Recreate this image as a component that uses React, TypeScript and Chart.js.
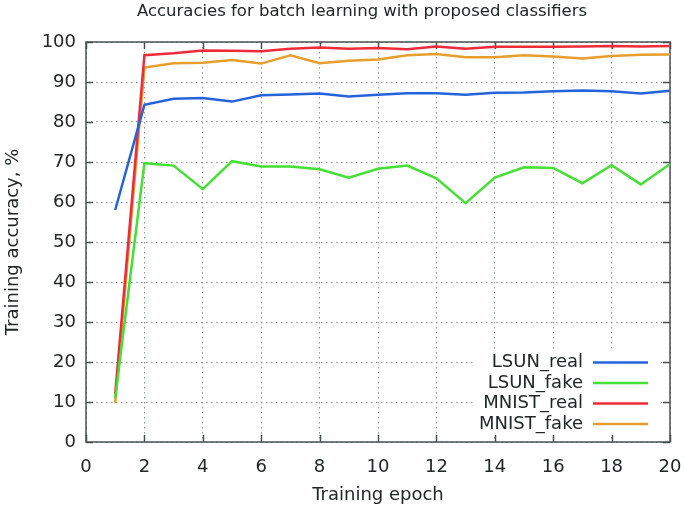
import React, { useEffect, useRef } from "react";
import { Chart, registerables } from "chart.js";

Chart.register(...registerables);

const epochs = [1, 2, 3, 4, 5, 6, 7, 8, 9, 10, 11, 12, 13, 14, 15, 16, 17, 18, 19, 20];
const lsunReal = [58, 84.3, 85.8, 86, 85.1, 86.7, 86.9, 87.1, 86.4, 86.8, 87.2, 87.2, 86.8, 87.3, 87.4, 87.7, 87.9, 87.7, 87.1, 87.8];
const lsunFake = [11, 69.7, 69.1, 63.2, 70.2, 68.9, 68.9, 68.2, 66.1, 68.3, 69.1, 65.9, 59.7, 66.1, 68.7, 68.5, 64.7, 69.2, 64.4, 69.5];
const mnistReal = [12, 96.7, 97.2, 97.9, 97.8, 97.7, 98.3, 98.6, 98.3, 98.5, 98.2, 98.9, 98.3, 98.8, 98.8, 98.8, 98.9, 99, 98.9, 99];
const mnistFake = [9.8, 93.6, 94.7, 94.8, 95.5, 94.6, 96.7, 94.7, 95.3, 95.6, 96.7, 97, 96.2, 96.2, 96.7, 96.4, 95.9, 96.5, 96.8, 96.9];

const seriesNames = ["LSUN_real", "LSUN_fake", "MNIST_real", "MNIST_fake"];
const seriesColors = ["#2463dc", "#44e034", "#ee2b3b", "#e89e2c"];
const seriesValues = [lsunReal, lsunFake, mnistReal, mnistFake];

const titleText = "Accuracies for batch learning with proposed classifiers";
const xTitle = "Training epoch";
const yTitle = "Training accuracy, %";

const FONT = "'DejaVu Sans', sans-serif";
const TEXT = "#222626";
const FRAME = "#4a5050";

const framePlugin = {
  id: "gnuplotFrame",
  beforeDatasetsDraw(chart: any) {
    const { ctx, chartArea: a } = chart;
    ctx.save();
    ctx.strokeStyle = FRAME;
    ctx.lineWidth = 1.5;
    ctx.setLineDash([]);
    const xs = chart.scales.x;
    const ys = chart.scales.y;
    const tl = 7;
    xs.ticks.forEach((t: any) => {
      const px = Math.round(xs.getPixelForValue(t.value)) + 0.5;
      ctx.beginPath();
      ctx.moveTo(px, a.bottom);
      ctx.lineTo(px, a.bottom - tl);
      ctx.moveTo(px, a.top);
      ctx.lineTo(px, a.top + tl);
      ctx.stroke();
    });
    ys.ticks.forEach((t: any) => {
      const py = Math.round(ys.getPixelForValue(t.value)) + 0.5;
      ctx.beginPath();
      ctx.moveTo(a.left, py);
      ctx.lineTo(a.left + tl, py);
      ctx.moveTo(a.right, py);
      ctx.lineTo(a.right - tl, py);
      ctx.stroke();
    });
    ctx.strokeRect(a.left, a.top, a.right - a.left, a.bottom - a.top);
    ctx.restore();
  },
  afterDatasetsDraw(chart: any) {
    const { ctx, chartArea: a } = chart;
    ctx.save();
    // legend box (white background, no border)
    ctx.fillStyle = "#ffffff";
    ctx.fillRect(473, 349, 187, 86);
    ctx.font = `18px ${FONT}`;
    ctx.textAlign = "right";
    ctx.textBaseline = "middle";
    seriesNames.forEach((name, i) => {
      const y = 362.5 + i * 20.5;
      ctx.fillStyle = TEXT;
      ctx.fillText(name, 583, y);
      ctx.strokeStyle = seriesColors[i];
      ctx.lineWidth = 2.5;
      ctx.beginPath();
      ctx.moveTo(593, y);
      ctx.lineTo(648, y);
      ctx.stroke();
    });
    // titles
    ctx.fillStyle = TEXT;
    ctx.textAlign = "center";
    ctx.font = `16.5px ${FONT}`;
    ctx.fillText(titleText, 362, 12);
    ctx.font = `18px ${FONT}`;
    ctx.fillText(xTitle, (a.left + a.right) / 2, 495);
    ctx.translate(13, (a.top + a.bottom) / 2);
    ctx.rotate(-Math.PI / 2);
    ctx.fillText(yTitle, 0, 0);
    ctx.restore();
  },
};

export default function App() {
  const ref = useRef<HTMLCanvasElement | null>(null);
  useEffect(() => {
    if (!ref.current) return;
    const chart = new Chart(ref.current, {
      type: "line",
      data: {
        datasets: seriesValues.map((vals, i) => ({
          label: seriesNames[i],
          data: epochs.map((e, j) => ({ x: e, y: vals[j] })),
          borderColor: seriesColors[i],
          backgroundColor: seriesColors[i],
          borderWidth: 2.5,
          pointRadius: 0,
          tension: 0,
          fill: false,
        })),
      },
      options: {
        responsive: false,
        animation: false,
        devicePixelRatio: 1,
        layout: { padding: { top: 42, right: 15, left: 0, bottom: 0 } },
        plugins: {
          legend: { display: false },
          title: { display: false },
          tooltip: { enabled: false },
        },
        scales: {
          x: {
            type: "linear",
            min: 0,
            max: 20,
            ticks: {
              stepSize: 2,
              font: { family: FONT, size: 18 },
              color: TEXT,
              padding: 15,
              maxRotation: 0,
            },
            grid: { color: "#8f9696", lineWidth: 1, drawTicks: false },
            border: { display: false, dash: [1.5, 3.5] },
            afterFit: (s: any) => {
              s.height = 64;
              s.paddingLeft = 0;
              s.paddingRight = 0;
            },
          },
          y: {
            min: 0,
            max: 100,
            ticks: {
              stepSize: 10,
              font: { family: FONT, size: 18 },
              color: TEXT,
              padding: 10,
            },
            grid: { color: "#8f9696", lineWidth: 1, drawTicks: false },
            border: { display: false, dash: [1.5, 3.5] },
            afterFit: (s: any) => {
              s.width = 86;
              s.paddingTop = 0;
              s.paddingBottom = 0;
            },
          },
        },
      },
      plugins: [framePlugin],
    });
    return () => chart.destroy();
  }, []);
  return (
    <div style={{ position: "fixed", left: 0, top: 0, width: 685, height: 506, background: "#fff" }}>
      <canvas ref={ref} width={685} height={506} style={{ width: 685, height: 506, display: "block" }} />
    </div>
  );
}
